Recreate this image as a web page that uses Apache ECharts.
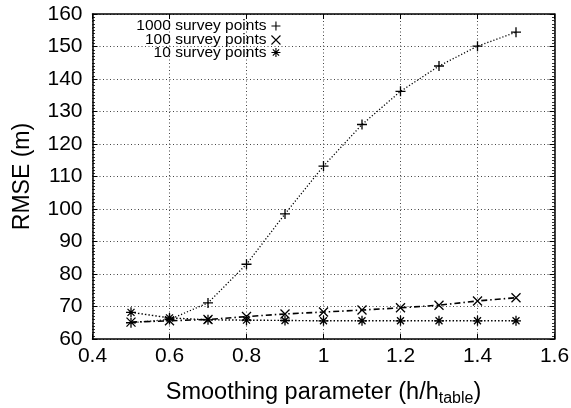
<!DOCTYPE html>
<html>
<head>
<meta charset="utf-8">
<script src="https://cdn.jsdelivr.net/npm/echarts@6/dist/echarts.min.js"></script>
<style>
  html, body { margin: 0; padding: 0; background: #fff; }
  #chart { width: 571px; height: 408px; }
</style>
</head>
<body>
<div id="chart"></div>
<script>
// Smoothing parameter (h / h_table) values
const smoothing = [0.5, 0.6, 0.7, 0.8, 0.9, 1.0, 1.1, 1.2, 1.3, 1.4, 1.5];
// RMSE (m) per number of survey points
const rmse1000 = [65.0, 66.0, 71.1, 83.0, 98.5, 113.2, 126.0, 136.2, 144.0, 150.1, 154.4];
const rmse100 = [65.2, 65.6, 66.0, 66.9, 67.7, 68.3, 68.9, 69.6, 70.4, 71.7, 72.7];
const rmse10 = [68.2, 66.5, 65.9, 65.8, 65.7, 65.6, 65.6, 65.6, 65.6, 65.6, 65.6];
const seriesNames = ['1000 survey points', '100 survey points', '10 survey points'];

const FONT = '"Liberation Sans", Arial, sans-serif';
const PLUS = 'path://M0,5L10,5M5,0L5,10';
const CROSS = 'path://M0,0L10,10M10,0L0,10';
const STAR = 'path://M0,5L10,5M5,0L5,10M1.5,1.5L8.5,8.5M8.5,1.5L1.5,8.5';

const pairs = (ys) => smoothing.map((x, i) => [x, ys[i]]);
const markStyle = { color: 'transparent', borderColor: '#000', borderWidth: 1.3 };
const gridLine = { show: true, lineStyle: { color: '#444', width: 1, type: [1, 2.5] } };

function legendFor(name, icon, top) {
  return {
    orient: 'vertical', right: 290, top: top, align: 'right', padding: 0,
    itemWidth: 9, itemHeight: 9, itemGap: 4,
    textStyle: { fontFamily: FONT, fontSize: 15.5, color: '#000' },
    itemStyle: { color: 'transparent', borderColor: '#000', borderWidth: 1.1 },
    data: [{ name: name, icon: icon }],
    selectedMode: false
  };
}

const chart = echarts.init(document.getElementById('chart'), null, { renderer: 'canvas' });
chart.setOption({
  backgroundColor: '#fff',
  animation: false,
  grid: { left: 92.5, right: 16.5, top: 14, bottom: 69, containLabel: false, outerBoundsMode: 'none' },
  legend: [
    legendFor(seriesNames[0], PLUS, 18),
    legendFor(seriesNames[1], CROSS, 32),
    legendFor(seriesNames[2], STAR, 44.5)
  ],
  xAxis: [{
    type: 'value', min: 0.4, max: 1.6, interval: 0.2,
    name: '{a|Smoothing parameter (h/h}{b|table}{a|)}',
    nameLocation: 'middle', nameGap: 40,
    nameTextStyle: {
      rich: {
        a: { fontFamily: FONT, fontSize: 23.5, color: '#000', lineHeight: 28, verticalAlign: 'middle' },
        b: { fontFamily: FONT, fontSize: 16, color: '#000', lineHeight: 16, verticalAlign: 'bottom' }
      }
    },
    axisLine: { show: true, onZero: false, lineStyle: { color: '#000', width: 1.5 } },
    axisTick: { show: true, inside: true, length: 5, lineStyle: { color: '#000', width: 1 } },
    axisLabel: {
      fontFamily: FONT, fontSize: 21, color: '#000', margin: 7,
      formatter: (v) => String(parseFloat(v.toFixed(1)))
    },
    splitLine: gridLine
  }, {
    type: 'value', position: 'top', min: 0.4, max: 1.6, interval: 0.2,
    axisLine: { show: true, onZero: false, lineStyle: { color: '#000', width: 1.5 } },
    axisTick: { show: true, inside: true, length: 5, lineStyle: { color: '#000', width: 1 } },
    axisLabel: { show: false }, splitLine: { show: false }
  }],
  yAxis: [{
    type: 'value', min: 60, max: 160, interval: 10,
    name: 'RMSE (m)', nameLocation: 'middle', nameGap: 58,
    nameTextStyle: { fontFamily: FONT, fontSize: 23, color: '#000' },
    axisLine: { show: true, onZero: false, lineStyle: { color: '#000', width: 1.5 } },
    axisTick: { show: true, inside: true, length: 5, lineStyle: { color: '#000', width: 1 } },
    minorTick: { show: true, splitNumber: 10, length: 2.5, lineStyle: { color: '#000', width: 0.8 } },
    axisLabel: { fontFamily: FONT, fontSize: 21, color: '#000', margin: 10 },
    splitLine: gridLine
  }, {
    type: 'value', position: 'right', min: 60, max: 160, interval: 10,
    axisLine: { show: true, onZero: false, lineStyle: { color: '#000', width: 1.5 } },
    axisTick: { show: true, inside: true, length: 5, lineStyle: { color: '#000', width: 1 } },
    minorTick: { show: true, splitNumber: 10, length: 2.5, lineStyle: { color: '#000', width: 0.8 } },
    axisLabel: { show: false }, splitLine: { show: false }
  }],
  series: [{
    name: seriesNames[0], type: 'line', data: pairs(rmse1000),
    symbol: PLUS, symbolSize: 10, showAllSymbol: true, z: 5,
    itemStyle: markStyle,
    lineStyle: { color: '#000', width: 1.3, type: [1.2, 2] }
  }, {
    name: seriesNames[1], type: 'line', data: pairs(rmse100),
    symbol: CROSS, symbolSize: 9, showAllSymbol: true, z: 4,
    itemStyle: markStyle,
    lineStyle: { color: '#000', width: 1.6, type: [6, 3, 1.5, 3] }
  }, {
    name: seriesNames[2], type: 'line', data: pairs(rmse10),
    symbol: STAR, symbolSize: 10, showAllSymbol: true, z: 3,
    itemStyle: markStyle,
    lineStyle: { color: '#000', width: 1.4, type: [1.5, 2] }
  }]
});
</script>
</body>
</html>
